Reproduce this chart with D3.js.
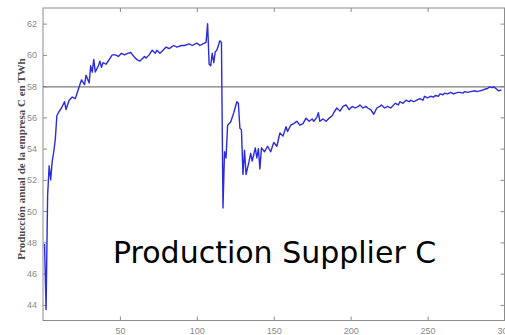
<!DOCTYPE html>
<html>
<head>
<meta charset="utf-8">
<script src="https://cdn.jsdelivr.net/npm/d3@7"></script>
<style>
  html, body { margin: 0; padding: 0; background: #fff; }
  svg { display: block; }
</style>
</head>
<body>
<svg id="chart" width="505" height="335"></svg>
<script>
// Annual production of supplier C (TWh) by simulation period
const periods = [
  1, 2, 3, 4, 5, 6, 7, 8, 9, 10, 12, 14, 15, 17, 19, 21, 23, 25, 27, 28,
  30, 31, 32, 33, 34, 36, 37, 38, 39, 41, 43, 45, 47, 49, 51, 53, 55, 57, 59, 61,
  63, 64, 66, 67, 69, 71, 73, 74, 76, 78, 80, 82, 85, 87, 90, 92, 95, 97, 100, 102,
  104, 106, 107, 108, 109, 110, 111, 112, 113, 114, 115, 116, 117, 118, 119, 120, 122, 124, 126, 127,
  128, 129, 130, 131, 132, 134, 135, 136, 138, 139, 140, 141, 142, 144, 146, 148, 150, 152, 154, 156,
  158, 159, 161, 163, 165, 167, 169, 171, 173, 175, 176, 178, 179, 180, 182, 184, 186, 188, 189, 191,
  193, 195, 197, 199, 201, 203, 205, 206, 208, 210, 211, 213, 215, 217, 219, 220, 222, 224, 226, 228,
  229, 231, 232, 234, 236, 238, 239, 241, 243, 245, 247, 248, 250, 252, 254, 255, 257, 258, 260, 261,
  263, 265, 267, 268, 270, 271, 273, 274, 276, 278, 281, 282, 284, 286, 287, 289, 290, 292, 293, 295,
  296, 298
];
const production = [
  47.9, 43.7, 51.0, 52.9, 52.0, 53.2, 53.8, 54.6, 56.1, 56.3, 56.6, 57.0, 56.5, 57.1, 57.3, 57.2, 57.8, 58.4, 58.1, 58.7,
  58.2, 59.3, 58.9, 59.7, 58.9, 59.3, 59.6, 59.2, 59.5, 59.4, 59.7, 60.0, 60.0, 59.9, 60.1, 60.0, 60.1, 60.15, 59.9, 59.7,
  59.6, 59.7, 59.9, 59.8, 60.0, 60.3, 60.1, 60.3, 60.1, 60.3, 60.5, 60.4, 60.6, 60.5, 60.6, 60.6, 60.7, 60.6, 60.75, 60.6,
  60.7, 60.8, 62.0, 59.4, 59.3, 60.1, 59.5, 60.2, 60.3, 60.6, 60.9, 60.8, 50.2, 53.8, 53.4, 55.5, 55.7, 56.3, 57.0, 56.9,
  55.3, 55.2, 52.35, 53.9, 52.35, 53.2, 53.7, 53.2, 54.05, 53.4, 54.0, 52.7, 54.05, 53.8, 54.15, 53.8, 54.4, 54.15, 55.0, 54.8,
  55.4, 55.1, 55.5, 55.6, 55.75, 55.5, 55.6, 55.95, 55.75, 55.9, 55.75, 56.0, 56.3, 55.75, 55.9, 55.75, 55.95, 56.1, 56.3, 56.6,
  56.4, 56.7, 56.8, 56.5, 56.7, 56.6, 56.7, 56.8, 56.6, 56.7, 56.6, 56.5, 56.2, 56.6, 56.7, 56.8, 56.6, 56.7, 56.6, 56.8,
  56.9, 56.8, 57.0, 56.9, 57.1, 57.0, 57.1, 57.0, 57.1, 57.2, 57.1, 57.35, 57.25, 57.35, 57.3, 57.4, 57.35, 57.5, 57.45, 57.55,
  57.5, 57.6, 57.5, 57.55, 57.6, 57.6, 57.55, 57.65, 57.6, 57.65, 57.7, 57.65, 57.7, 57.75, 57.8, 57.85, 57.95, 57.9, 57.95, 57.8,
  57.7, 57.75
];
const referenceLevel = 57.95;
const xTicks = [50, 100, 150, 200, 250, 300];
const yTicks = [44, 46, 48, 50, 52, 54, 56, 58, 60, 62];
const yLabel = "Producción anual de la empresa C en TWh";
const caption = "Production Supplier C";

const svg = d3.select("#chart");
const plotLeft = 43, plotRight = 504.5, plotTop = 8, plotBottom = 320.5;

const x = d3.scaleLinear().domain([0, 300]).range([plotLeft, plotRight]);
const y = d3.scaleLinear().domain([43, 63]).range([plotBottom, plotTop]);

const axisColor = "#8c8c8c";
const labelColor = "#8a8a8a";

// Axes with inward ticks on all four sides
const styleAxis = g => {
  g.select(".domain").remove();
  g.selectAll(".tick line").attr("stroke", axisColor).attr("stroke-width", 1);
  g.selectAll(".tick text")
    .attr("fill", labelColor)
    .style("font-family", "'Liberation Sans', Arial, sans-serif")
    .style("font-size", "9px");
};

svg.append("g")
  .attr("transform", `translate(0,${plotBottom})`)
  .call(d3.axisBottom(x).tickValues(xTicks).tickSize(-4).tickPadding(7))
  .call(styleAxis);

svg.append("g")
  .attr("transform", `translate(0,${plotTop})`)
  .call(d3.axisTop(x).tickValues(xTicks).tickSize(-4).tickFormat(""))
  .call(styleAxis);

svg.append("g")
  .attr("transform", `translate(${plotLeft},0)`)
  .call(d3.axisLeft(y).tickValues(yTicks).tickSize(-4).tickPadding(6))
  .call(styleAxis);

svg.append("g")
  .attr("transform", `translate(${plotRight},0)`)
  .call(d3.axisRight(y).tickValues(yTicks).tickSize(-4).tickFormat(""))
  .call(styleAxis);

// Plot frame
svg.append("rect")
  .attr("x", plotLeft).attr("y", plotTop)
  .attr("width", plotRight - plotLeft).attr("height", plotBottom - plotTop)
  .attr("fill", "none")
  .attr("stroke", axisColor)
  .attr("stroke-width", 1);

// Reference level
svg.append("line")
  .attr("x1", plotLeft).attr("x2", plotRight)
  .attr("y1", y(referenceLevel)).attr("y2", y(referenceLevel))
  .attr("stroke", "#7a7a7a")
  .attr("stroke-width", 1.2);

// Production series
const points = periods.map((p, i) => [p, production[i]]);
svg.append("path")
  .datum(points)
  .attr("fill", "none")
  .attr("stroke", "#2b2bdc")
  .attr("stroke-width", 1.4)
  .attr("stroke-linejoin", "round")
  .attr("d", d3.line().x(d => x(d[0])).y(d => y(d[1])));

// Y-axis title
svg.append("text")
  .attr("transform", `translate(25,${(50 + 268) / 2}) rotate(-90)`)
  .attr("text-anchor", "middle")
  .attr("fill", "#4a4a4a")
  .style("font-family", "'Liberation Serif', 'Times New Roman', serif")
  .style("font-weight", "bold")
  .style("font-size", "11px")
  .text(yLabel);

// Caption
svg.append("text")
  .attr("x", 113)
  .attr("y", 263)
  .attr("fill", "#000")
  .style("font-family", "'DejaVu Sans', sans-serif")
  .style("font-size", "30px")
  .text(caption);
</script>
</body>
</html>
